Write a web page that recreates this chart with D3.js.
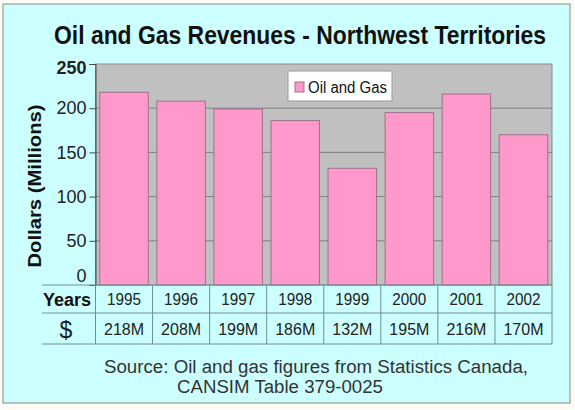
<!DOCTYPE html>
<html>
<head>
<meta charset="utf-8">
<script src="https://cdn.jsdelivr.net/npm/d3@7"></script>
<style>
  body { margin: 0; background: #fdfbf5; }
  svg { display: block; font-family: "Liberation Sans", Arial, sans-serif; }
</style>
</head>
<body>
<div id="chart"></div>
<script>
var years = ["1995", "1996", "1997", "1998", "1999", "2000", "2001", "2002"];
var revenues = [218, 208, 199, 186, 132, 195, 216, 170];
var tableValues = ["218M", "208M", "199M", "186M", "132M", "195M", "216M", "170M"];
var yTicks = [0, 50, 100, 150, 200, 250];
var seriesName = "Oil and Gas";

var svg = d3.select("#chart").append("svg")
  .attr("width", 575)
  .attr("height", 410);

// panel
svg.append("rect")
  .attr("x", 3).attr("y", 4)
  .attr("width", 567).attr("height", 399)
  .attr("fill", "#ccffff")
  .attr("stroke", "#9a9a9a")
  .attr("stroke-width", 1.2);

svg.append("text")
  .attr("x", 300).attr("y", 44)
  .attr("text-anchor", "middle")
  .attr("font-size", 26)
  .attr("font-weight", "bold")
  .attr("textLength", 492)
  .attr("lengthAdjust", "spacingAndGlyphs")
  .attr("fill", "#111")
  .text("Oil and Gas Revenues - Northwest Territories");

var plotLeft = 95.5, plotRight = 552, plotTop = 64, plotBottom = 285;

var x = d3.scaleBand()
  .domain(years)
  .range([plotLeft, plotRight])
  .paddingInner(0.15)
  .paddingOuter(0.075);

var xCell = d3.scaleBand()
  .domain(years)
  .range([plotLeft, plotRight]);

var y = d3.scaleLinear()
  .domain([0, 250])
  .range([plotBottom, plotTop]);

// plot background
svg.append("rect")
  .attr("x", plotLeft).attr("y", plotTop)
  .attr("width", plotRight - plotLeft).attr("height", plotBottom - plotTop)
  .attr("fill", "#c0c0c0")
  .attr("stroke", "#8a8a8a");

svg.append("g")
  .selectAll("line")
  .data(yTicks.filter(d => d > 0 && d < 250))
  .enter()
  .append("line")
  .attr("x1", plotLeft).attr("x2", plotRight)
  .attr("y1", d => y(d)).attr("y2", d => y(d))
  .attr("stroke", "#808080");

// y axis
var yAxis = svg.append("g")
  .attr("transform", "translate(" + plotLeft + ",0)")
  .call(d3.axisLeft(y).tickValues(yTicks).tickSize(6).tickPadding(3));
yAxis.select(".domain").attr("stroke", "#444");
yAxis.selectAll(".tick line").attr("stroke", "#444");
yAxis.selectAll(".tick text")
  .attr("font-size", 18)
  .attr("font-family", "Liberation Sans, Arial, sans-serif")
  .attr("fill", "#222")
  .attr("font-weight", d => d === 250 ? "bold" : "normal")
  .attr("dy", d => d === 0 ? "-0.22em" : d === 250 ? "0.5em" : "0.32em");

svg.append("text")
  .attr("transform", "translate(41,186) rotate(-90)")
  .attr("text-anchor", "middle")
  .attr("font-size", 18)
  .attr("font-weight", "bold")
  .attr("textLength", 163)
  .attr("lengthAdjust", "spacingAndGlyphs")
  .attr("fill", "#111")
  .text("Dollars (Millions)");

// bars
svg.append("g")
  .selectAll("rect")
  .data(years.map((d, i) => [d, revenues[i]]))
  .enter()
  .append("rect")
  .attr("x", d => x(d[0]))
  .attr("y", d => y(d[1]))
  .attr("width", x.bandwidth())
  .attr("height", d => y(0) - y(d[1]))
  .attr("fill", "#ff99cc")
  .attr("stroke", "#a0708a")
  .attr("stroke-width", 1);

// legend
var legend = svg.append("g").attr("transform", "translate(288,71)");
legend.append("rect")
  .attr("width", 104).attr("height", 30)
  .attr("fill", "#fff")
  .attr("stroke", "#999");
legend.append("rect")
  .attr("x", 7).attr("y", 11)
  .attr("width", 9).attr("height", 10)
  .attr("fill", "#ff99cc")
  .attr("stroke", "#a0708a");
legend.append("text")
  .attr("x", 20).attr("y", 22)
  .attr("font-size", 16)
  .attr("textLength", 79)
  .attr("lengthAdjust", "spacingAndGlyphs")
  .attr("fill", "#111")
  .text(seriesName);

// data table
var rowTop = 285, rowMid = 313, rowBot = 344, tableLeft = 42;
var table = svg.append("g").attr("stroke", "#6f8f90").attr("stroke-width", 1);
[rowTop, rowMid, rowBot].forEach(function(yy) {
  table.append("line")
    .attr("x1", tableLeft).attr("x2", plotRight)
    .attr("y1", yy).attr("y2", yy);
});
table.selectAll(".vline")
  .data(years.concat(["end"]))
  .enter()
  .append("line")
  .attr("x1", d => d === "end" ? plotRight : xCell(d))
  .attr("x2", d => d === "end" ? plotRight : xCell(d))
  .attr("y1", rowTop).attr("y2", rowBot);

svg.append("text")
  .attr("x", 67).attr("y", 306)
  .attr("text-anchor", "middle")
  .attr("font-size", 18)
  .attr("font-weight", "bold")
  .attr("textLength", 48)
  .attr("lengthAdjust", "spacingAndGlyphs")
  .attr("fill", "#111")
  .text("Years");
svg.append("text")
  .attr("x", 66).attr("y", 338)
  .attr("text-anchor", "middle")
  .attr("font-size", 23)
  .attr("fill", "#222")
  .text("$");

svg.append("g")
  .selectAll("text")
  .data(years)
  .enter()
  .append("text")
  .attr("x", d => xCell(d) + xCell.bandwidth() / 2)
  .attr("y", 305)
  .attr("text-anchor", "middle")
  .attr("font-size", 17)
  .attr("textLength", 34)
  .attr("lengthAdjust", "spacingAndGlyphs")
  .attr("fill", "#222")
  .text(d => d);

svg.append("g")
  .selectAll("text")
  .data(tableValues)
  .enter()
  .append("text")
  .attr("x", (d, i) => xCell(years[i]) + xCell.bandwidth() / 2)
  .attr("y", 335)
  .attr("text-anchor", "middle")
  .attr("font-size", 17)
  .attr("textLength", 40)
  .attr("lengthAdjust", "spacingAndGlyphs")
  .attr("fill", "#222")
  .text(d => d);

// source
svg.append("text")
  .attr("x", 104).attr("y", 373)
  .attr("font-size", 18)
  .attr("textLength", 424)
  .attr("lengthAdjust", "spacingAndGlyphs")
  .attr("fill", "#333")
  .text("Source: Oil and gas figures from Statistics Canada,");
svg.append("text")
  .attr("x", 177).attr("y", 393)
  .attr("font-size", 18)
  .attr("textLength", 206)
  .attr("lengthAdjust", "spacingAndGlyphs")
  .attr("fill", "#333")
  .text("CANSIM Table 379-0025");
</script>
</body>
</html>
